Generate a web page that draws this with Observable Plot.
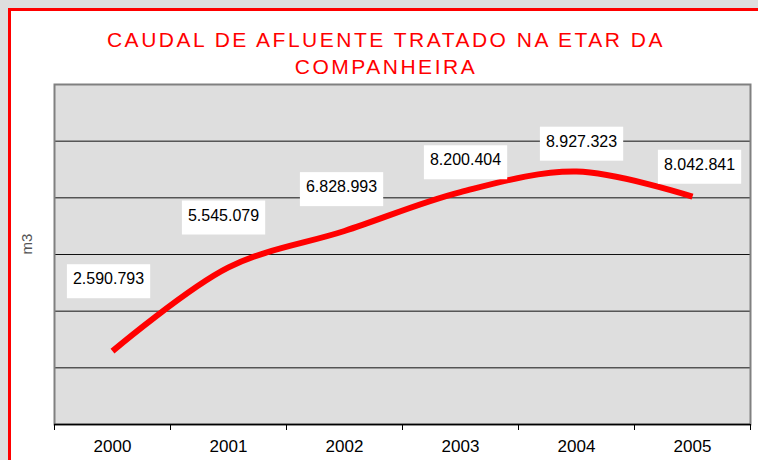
<!DOCTYPE html>
<html><head><meta charset="utf-8">
<script src="https://cdn.jsdelivr.net/npm/d3@7"></script>
<script src="https://cdn.jsdelivr.net/npm/@observablehq/plot@0.6"></script>
<style>
html,body{margin:0;padding:0;width:758px;height:460px;overflow:hidden;background:#dedede;font-family:"Liberation Sans",Arial,sans-serif;}
#frame{position:absolute;left:8px;top:8px;width:800px;height:500px;border:3px solid #ff0000;background:#fff;}
#title{position:absolute;left:0;width:772px;top:26px;text-align:center;color:#ff0000;font-size:21px;line-height:27px;letter-spacing:2.5px;}
#chart{position:absolute;left:0;top:70px;}
</style></head><body>
<div id="frame"></div>
<div id="title">CAUDAL DE AFLUENTE TRATADO NA ETAR DA<br>COMPANHEIRA</div>
<div id="chart"></div>
<script>
const years = [2000, 2001, 2002, 2003, 2004, 2005];
const values = [2590793, 5545079, 6828993, 8200404, 8927323, 8042841];
const yTicks = [0, 2000000, 4000000, 6000000, 8000000, 10000000, 12000000];
const yLabel = "m3";
const labelDx = [-4, -5, -3, 5, 5, 7];
const labelDy = [-72, -52, -44, -32, -30, -32];

const data = years.map((year, i) => ({year, value: values[i]}));
const fmt = d3.formatLocale({decimal: ",", thousands: ".", grouping: [3], currency: ["", "€"]}).format(",d");
const boundaries = years.map(y => y - 0.5).concat([years[years.length - 1] + 0.5]);

const labelMarks = data.map((d, i) => Plot.text([d], {
  x: "year", y: "value", text: v => fmt(v.value),
  dx: labelDx[i], dy: labelDy[i], fontSize: 16, fill: "#000",
  textAnchor: "middle", lineAnchor: "middle"
}));

const plot = Plot.plot({
  width: 758, height: 390,
  marginTop: 14, marginBottom: 36, marginLeft: 54, marginRight: 8,
  style: {fontFamily: "'Liberation Sans', Arial, sans-serif", background: "transparent", overflow: "visible", color: "#000"},
  x: {type: "linear", domain: [boundaries[0], boundaries[boundaries.length - 1]], label: null},
  y: {domain: [yTicks[0], yTicks[yTicks.length - 1]], axis: null},
  marks: [
    Plot.frame({fill: "#dedede", stroke: "none"}),
    Plot.gridY(yTicks.slice(1, -1), {stroke: "#111", strokeOpacity: 1, strokeWidth: 1}),
    Plot.frame({stroke: "#808080", strokeWidth: 2, fill: "none"}),
    Plot.ruleY([yTicks[0]], {stroke: "#000", strokeWidth: 1.5}),
    Plot.axisX({ticks: boundaries, tickSize: 6, tickFormat: () => "", stroke: "#000", label: null}),
    Plot.axisX({ticks: years, tickSize: 0, tickPadding: 15, tickFormat: d => String(d), fontSize: 17, fill: "#000", label: null}),
    Plot.text([yLabel], {frameAnchor: "left", dx: -27, rotate: -90, fontSize: 15, fill: "#555"}),
    Plot.line(data, {x: "year", y: "value", stroke: "#ff0000", strokeWidth: 6, curve: "catmull-rom", strokeLinecap: "butt", strokeLinejoin: "round"}),
    ...labelMarks
  ]
});
document.getElementById("chart").append(plot);

const ns = "http://www.w3.org/2000/svg";
const labelSet = new Set(values.map(fmt));
plot.querySelectorAll("text").forEach(t => {
  if (!labelSet.has(t.textContent)) return;
  const b = t.getBBox();
  const r = document.createElementNS(ns, "rect");
  r.setAttribute("x", b.x - 6);
  r.setAttribute("y", b.y - 6);
  r.setAttribute("width", b.width + 12);
  r.setAttribute("height", 34);
  r.setAttribute("fill", "#fff");
  const tr = t.getAttribute("transform");
  if (tr) r.setAttribute("transform", tr);
  t.parentNode.insertBefore(r, t);
});
</script>
</body></html>
